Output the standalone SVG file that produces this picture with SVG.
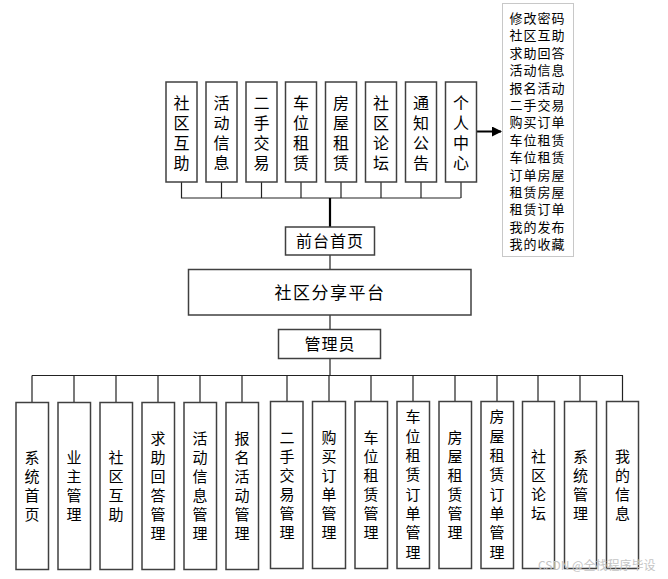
<svg xmlns="http://www.w3.org/2000/svg" width="668" height="579" viewBox="0 0 668 579">
<style>
.box{fill:#fff;stroke:#404040;stroke-width:1.5}
.t{font-family:"Noto Sans CJK SC","Liberation Sans",sans-serif;fill:#000;text-anchor:middle}
.v{font-family:"Noto Sans CJK SC","Liberation Sans",sans-serif;fill:#000;text-anchor:middle;writing-mode:vertical-rl}
.v16{font-size:16px;letter-spacing:4px}
.v15{font-size:15px;letter-spacing:4px}
.v15b{font-size:15px;letter-spacing:4.3px}
.t16{font-size:16px}
.ln{stroke:#222;stroke-width:1.2;fill:none}
.lb{font-family:"Noto Sans CJK SC","Liberation Sans",sans-serif;font-size:13px;fill:#000;letter-spacing:1px}
</style>
<defs>
<marker id="arr" markerWidth="10" markerHeight="10" refX="9" refY="5" orient="auto" markerUnits="userSpaceOnUse">
<path d="M0,0 L10,5 L0,10 z" fill="#000"/>
</marker>
</defs>
<rect width="668" height="579" fill="#fff"/>
<g id="connectors">
<path class="ln" d="M181.5,182 V198 H460.5 M221.5,182 V198 M261.5,182 V198 M301,182 V198 M341,182 V198 M381,182 V198 M421,182 V198 M461,182 V198"/>
<path d="M330,198 V227" stroke="#000" stroke-width="2.2" fill="none"/>
<path class="ln" d="M330,255 V269 M330,315 V329 M330,358 V375"/>
<path class="ln" d="M32,375.5 H623 M32,375.5 V402 M74,375.5 V402 M116,375.5 V402 M158,375.5 V402 M200,375.5 V402 M242,375.5 V402 M287,375.5 V402 M329,375.5 V402 M371,375.5 V402 M413,375.5 V402 M455,375.5 V402 M497,375.5 V402 M538,375.5 V402 M580,375.5 V402 M622.5,375.5 V402"/>
<path d="M477,131.5 H501" stroke="#000" stroke-width="2" marker-end="url(#arr)"/>
</g>
<g id="top-nodes">
<g id="n-shequhuzhu"><rect class="box" x="166" y="82" width="31" height="100"/><text class="v v16" x="181.5" y="135">社区互助</text></g>
<g id="n-huodongxinxi"><rect class="box" x="206" y="82" width="31" height="100"/><text class="v v16" x="221.5" y="135">活动信息</text></g>
<g id="n-ershoujiaoyi"><rect class="box" x="246" y="82" width="31" height="100"/><text class="v v16" x="261.5" y="135">二手交易</text></g>
<g id="n-cheweizulin"><rect class="box" x="285.5" y="82" width="31" height="100"/><text class="v v16" x="301" y="135">车位租赁</text></g>
<g id="n-fangwuzulin"><rect class="box" x="325.5" y="82" width="31" height="100"/><text class="v v16" x="341" y="135">房屋租赁</text></g>
<g id="n-shequluntan"><rect class="box" x="365.5" y="82" width="31" height="100"/><text class="v v16" x="381" y="135">社区论坛</text></g>
<g id="n-tongzhigonggao"><rect class="box" x="405.5" y="82" width="31" height="100"/><text class="v v16" x="421" y="135">通知公告</text></g>
<g id="n-gerenzhongxin"><rect class="box" x="445.5" y="82" width="31" height="100"/><text class="v v16" x="461" y="135">个人中心</text></g>
</g>
<g id="n-geren-list">
<rect x="502.5" y="3.5" width="71" height="253" fill="#fff" stroke="#c8c8c8" stroke-width="1"/>
<text class="lb" x="509.5"><tspan x="509.5" y="23">修改密码</tspan><tspan x="509.5" y="40.4">社区互助</tspan><tspan x="509.5" y="57.8">求助回答</tspan><tspan x="509.5" y="75.2">活动信息</tspan><tspan x="509.5" y="92.6">报名活动</tspan><tspan x="509.5" y="110">二手交易</tspan><tspan x="509.5" y="127.4">购买订单</tspan><tspan x="509.5" y="144.8">车位租赁</tspan><tspan x="509.5" y="162.2">车位租赁</tspan><tspan x="509.5" y="179.6">订单房屋</tspan><tspan x="509.5" y="197">租赁房屋</tspan><tspan x="509.5" y="214.4">租赁订单</tspan><tspan x="509.5" y="231.8">我的发布</tspan><tspan x="509.5" y="249.2">我的收藏</tspan></text>
</g>
<g id="n-qiantai"><rect class="box" x="285.5" y="227" width="89" height="28"/><text class="t t16" x="330" y="247" letter-spacing="1">前台首页</text></g>
<g id="n-pingtai"><rect class="box" x="188.5" y="269.5" width="282.5" height="45.5"/><text class="t" font-size="17" x="330" y="298.5" letter-spacing="1.5">社区分享平台</text></g>
<g id="n-guanliyuan"><rect class="box" x="278.5" y="329.5" width="102" height="29"/><text class="t t16" x="330" y="350" letter-spacing="1">管理员</text></g>
<g id="bottom-nodes">
<g id="b1"><rect class="box" x="16" y="402.5" width="32.5" height="167"/><text class="v v15" x="32" y="488">系统首页</text></g>
<g id="b2"><rect class="box" x="58" y="402.5" width="32.5" height="167"/><text class="v v15" x="74" y="488">业主管理</text></g>
<g id="b3"><rect class="box" x="100" y="402.5" width="32.5" height="167"/><text class="v v15" x="116" y="488">社区互助</text></g>
<g id="b4"><rect class="box" x="142" y="402.5" width="32.5" height="167"/><text class="v v15" x="158" y="488">求助回答管理</text></g>
<g id="b5"><rect class="box" x="184" y="402.5" width="32.5" height="167"/><text class="v v15" x="200" y="488">活动信息管理</text></g>
<g id="b6"><rect class="box" x="226" y="402.5" width="32.5" height="167"/><text class="v v15" x="242" y="488">报名活动管理</text></g>
<g id="b7"><rect class="box" x="270.5" y="401.5" width="32.5" height="167"/><text class="v v15" x="287" y="487">二手交易管理</text></g>
<g id="b8"><rect class="box" x="312.5" y="401.5" width="33" height="167"/><text class="v v15" x="329" y="487">购买订单管理</text></g>
<g id="b9"><rect class="box" x="355" y="401.5" width="32.5" height="167"/><text class="v v15" x="371" y="487">车位租赁管理</text></g>
<g id="b10"><rect class="box" x="397" y="401.5" width="32.5" height="167"/><text class="v v15b" x="413" y="486.5">车位租赁订单管理</text></g>
<g id="b11"><rect class="box" x="439" y="401.5" width="32.5" height="167"/><text class="v v15" x="455" y="487">房屋租赁管理</text></g>
<g id="b12"><rect class="box" x="481" y="401.5" width="32.5" height="167"/><text class="v v15b" x="497" y="486.5">房屋租赁订单管理</text></g>
<g id="b13"><rect class="box" x="522.5" y="401.5" width="32" height="167"/><text class="v v15" x="538.5" y="487">社区论坛</text></g>
<g id="b14"><rect class="box" x="564.5" y="401.5" width="32" height="167"/><text class="v v15" x="580.5" y="487">系统管理</text></g>
<g id="b15"><rect class="box" x="606.5" y="401.5" width="32" height="167"/><text class="v v15" x="622.5" y="487">我的信息</text></g>
</g>
<text x="538" y="570" font-family="'Noto Sans CJK SC','Liberation Sans',sans-serif" font-size="12" fill="#c4c4c4">CSDN @全栈程序毕设</text>
</svg>
